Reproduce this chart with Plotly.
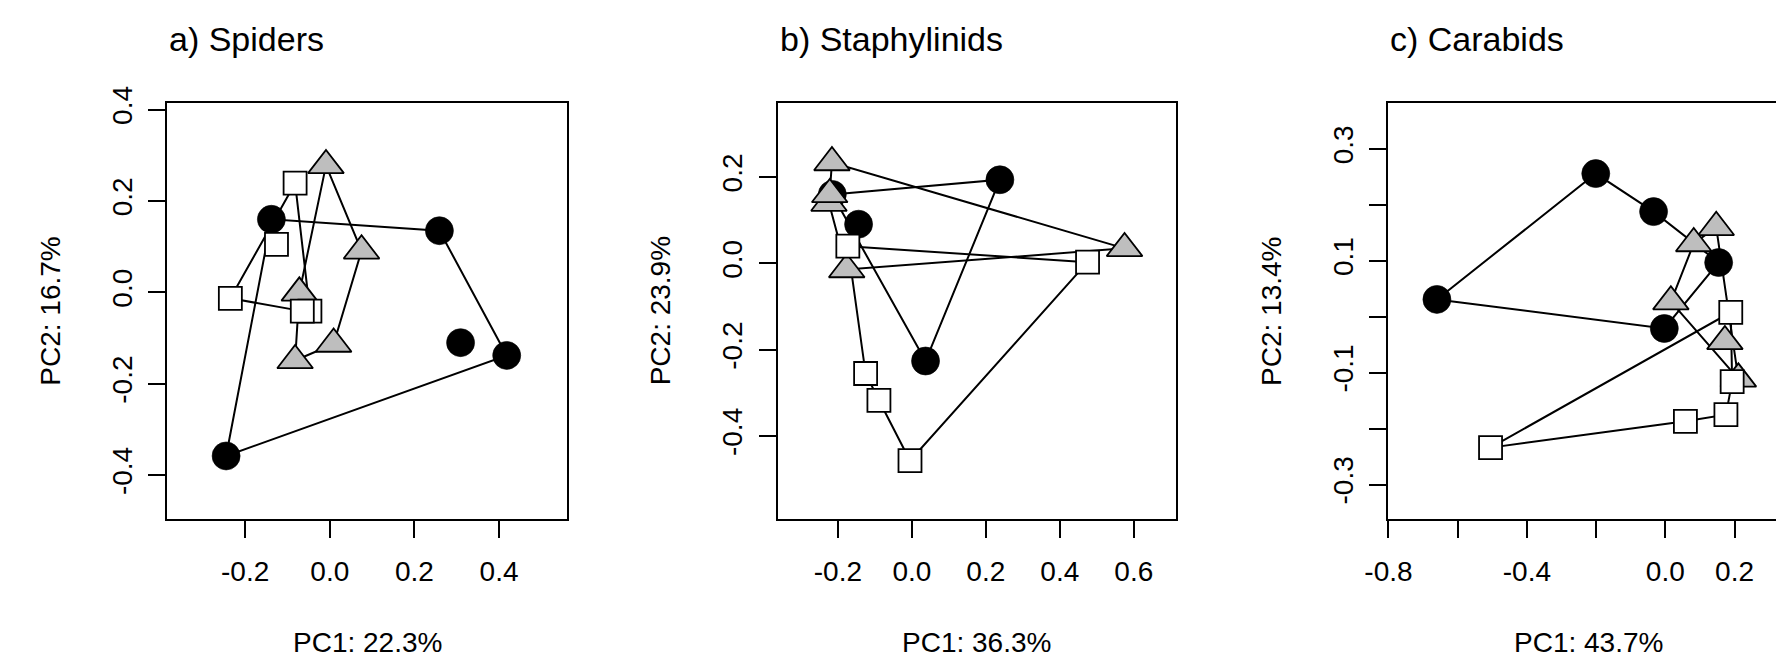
import plotly.graph_objects as go

# ---------------- data ----------------
# a) Spiders
spiders_circle_x = [-0.138, 0.259, 0.418, 0.309, -0.245]
spiders_circle_y = [0.160, 0.135, -0.138, -0.110, -0.358]
spiders_triangle_x = [-0.009, 0.075, -0.072, 0.009, -0.082]
spiders_triangle_y = [0.278, 0.091, -0.001, -0.113, -0.149]
spiders_square_x = [-0.082, -0.126, -0.235, -0.047, -0.065]
spiders_square_y = [0.239, 0.105, -0.013, -0.041, -0.041]

# b) Staphylinids
staph_circle_x = [0.238, -0.144, 0.037, -0.215]
staph_circle_y = [0.194, 0.091, -0.226, 0.160]
staph_triangle_x = [-0.216, -0.224, -0.222, -0.176, 0.575]
staph_triangle_y = [0.234, 0.140, 0.160, -0.014, 0.035]
staph_square_x = [-0.173, 0.475, -0.125, -0.089, -0.005]
staph_square_y = [0.040, 0.003, -0.255, -0.317, -0.457]

# c) Carabids
carab_circle_x = [-0.201, -0.034, 0.154, -0.660, -0.003]
carab_circle_y = [0.256, 0.188, 0.097, 0.031, -0.021]
carab_triangle_x = [0.147, 0.082, 0.016, 0.172, 0.211]
carab_triangle_y = [0.160, 0.131, 0.027, -0.044, -0.111]
carab_square_x = [0.189, 0.193, 0.175, 0.058, -0.505]
carab_square_y = [0.008, -0.116, -0.175, -0.187, -0.234]

panel_titles = ["a) Spiders", "b) Staphylinids", "c) Carabids"]
x_titles = ["PC1: 22.3%", "PC1: 36.3%", "PC1: 43.7%"]
y_titles = ["PC2: 16.7%", "PC2: 23.9%", "PC2: 13.4%"]

a_xtick_vals = [-0.2, 0.0, 0.2, 0.4]
a_xtick_text = ["-0.2", "0.0", "0.2", "0.4"]
a_ytick_vals = [-0.4, -0.2, 0.0, 0.2, 0.4]
a_ytick_text = ["-0.4", "-0.2", "0.0", "0.2", "0.4"]
b_xtick_vals = [-0.2, 0.0, 0.2, 0.4, 0.6]
b_xtick_text = ["-0.2", "0.0", "0.2", "0.4", "0.6"]
b_ytick_vals = [-0.4, -0.2, 0.0, 0.2]
b_ytick_text = ["-0.4", "-0.2", "0.0", "0.2"]
c_xtick_vals = [-0.8, -0.6, -0.4, -0.2, 0.0, 0.2]
c_xtick_text = ["-0.8", "", "-0.4", "", "0.0", "0.2"]
c_ytick_vals = [-0.3, -0.2, -0.1, 0.0, 0.1, 0.2, 0.3]
c_ytick_text = ["-0.3", "", "-0.1", "", "0.1", "", "0.3"]

# ---------------- layout geometry (pixels) ----------------
W, H = 1776, 658
box_top, box_bottom = 88.7, 515.0
box_left = [145.0, 764.0, 1383.0]
box_right = [550.7, 1167.3, 1789.0]
x_ranges = [[-0.3846, 0.5611], [-0.3627, 0.7128], [-0.8004, 0.3197]]
y_ranges = [[-0.4953, 0.4136], [-0.5914, 0.3709], [-0.3611, 0.3815]]

FONT = "Liberation Sans, Arial, Helvetica, sans-serif"
LW = 2.0


def convex_hull(xs, ys):
    pts = sorted(set(zip(xs, ys)))

    def cross(o, a, b):
        return (a[0] - o[0]) * (b[1] - o[1]) - (a[1] - o[1]) * (b[0] - o[0])

    lower = []
    for p in pts:
        while len(lower) >= 2 and cross(lower[-2], lower[-1], p) <= 0:
            lower.pop()
        lower.append(p)
    upper = []
    for p in reversed(pts):
        while len(upper) >= 2 and cross(upper[-2], upper[-1], p) <= 0:
            upper.pop()
        upper.append(p)
    h = lower[:-1] + upper[:-1]
    h.append(h[0])
    return [p[0] for p in h], [p[1] for p in h]


panels = [
    (spiders_circle_x, spiders_circle_y, spiders_triangle_x, spiders_triangle_y,
     spiders_square_x, spiders_square_y),
    (staph_circle_x, staph_circle_y, staph_triangle_x, staph_triangle_y,
     staph_square_x, staph_square_y),
    (carab_circle_x, carab_circle_y, carab_triangle_x, carab_triangle_y,
     carab_square_x, carab_square_y),
]
ticks = [
    (a_xtick_vals, a_xtick_text, a_ytick_vals, a_ytick_text),
    (b_xtick_vals, b_xtick_text, b_ytick_vals, b_ytick_text),
    (c_xtick_vals, c_xtick_text, c_ytick_vals, c_ytick_text),
]

fig = go.Figure()

for i, (cx, cy, tx, ty, sx, sy) in enumerate(panels):
    xa = "x" if i == 0 else f"x{i + 1}"
    ya = "y" if i == 0 else f"y{i + 1}"
    # convex hull outline of each group
    for gx, gy in [(cx, cy), (tx, ty), (sx, sy)]:
        hx, hy = convex_hull(gx, gy)
        fig.add_trace(go.Scatter(x=hx, y=hy, mode="lines", xaxis=xa, yaxis=ya,
                                 line=dict(color="black", width=LW),
                                 hoverinfo="skip"))
    fig.add_trace(go.Scatter(x=cx, y=cy, mode="markers", xaxis=xa, yaxis=ya,
                             marker=dict(symbol="circle", size=28, color="black",
                                         line=dict(color="black", width=0.6))))
    fig.add_trace(go.Scatter(x=tx, y=ty, mode="markers", xaxis=xa, yaxis=ya,
                             marker=dict(symbol="triangle-up", size=31, color="#BEBEBE",
                                         line=dict(color="black", width=1.8))))
    fig.add_trace(go.Scatter(x=sx, y=sy, mode="markers", xaxis=xa, yaxis=ya,
                             marker=dict(symbol="square", size=23, color="white",
                                         line=dict(color="black", width=1.8))))

layout = dict(
    width=W, height=H,
    margin=dict(l=0, r=0, t=0, b=0, pad=0),
    paper_bgcolor="white", plot_bgcolor="white",
    showlegend=False,
    font=dict(family=FONT, size=28, color="black"),
)

ydom = [1 - box_bottom / H, 1 - box_top / H]
for i in range(3):
    xv, xt, yv, yt = ticks[i]
    xkey = "xaxis" if i == 0 else f"xaxis{i + 1}"
    ykey = "yaxis" if i == 0 else f"yaxis{i + 1}"
    ya = "y" if i == 0 else f"y{i + 1}"
    xa = "x" if i == 0 else f"x{i + 1}"
    layout[xkey] = dict(
        domain=[box_left[i] / W, min(box_right[i] / W, 1.0)],
        range=x_ranges[i], anchor=ya,
        showline=True, linecolor="black", linewidth=LW, mirror=True,
        ticks="outside", ticklen=17, tickwidth=LW, tickcolor="black",
        tickvals=xv, ticktext=xt, tickfont=dict(family=FONT, size=28),
        ticklabelstandoff=10,
        showgrid=False, zeroline=False, fixedrange=True,
    )
    layout[ykey] = dict(
        domain=ydom, range=y_ranges[i], anchor=xa,
        showline=True, linecolor="black", linewidth=LW, mirror=(i < 2),
        ticks="outside", ticklen=17, tickwidth=LW, tickcolor="black",
        tickvals=yv, ticktext=yt, tickfont=dict(family=FONT, size=28),
        tickangle=-90, ticklabelstandoff=5,
        showgrid=False, zeroline=False, fixedrange=True,
    )

annotations = []
for i in range(3):
    # panel title, left aligned with the box
    annotations.append(dict(
        text=panel_titles[i], xref="paper", yref="paper",
        x=box_left[i] / W, y=1 - 23.0 / H, xanchor="left", yanchor="middle",
        showarrow=False, font=dict(family=FONT, size=34, color="black")))
    # x axis title
    annotations.append(dict(
        text=x_titles[i], xref="paper", yref="paper",
        x=(box_left[i] + box_right[i]) / 2 / W, y=1 - 642.0 / H,
        xanchor="center", yanchor="middle", showarrow=False,
        font=dict(family=FONT, size=28, color="black")))
    # y axis title
    annotations.append(dict(
        text=y_titles[i], xref="paper", yref="paper",
        x=(box_left[i] - 119.0) / W, y=1 - (box_top + box_bottom) / 2 / H,
        xanchor="center", yanchor="middle", textangle=-90, showarrow=False,
        font=dict(family=FONT, size=28, color="black")))
layout["annotations"] = annotations

fig.update_layout(**layout)

fig.write_html("out.html", config={"displayModeBar": False},
               post_script="document.body.style.margin='0';document.body.style.overflow='hidden';")
